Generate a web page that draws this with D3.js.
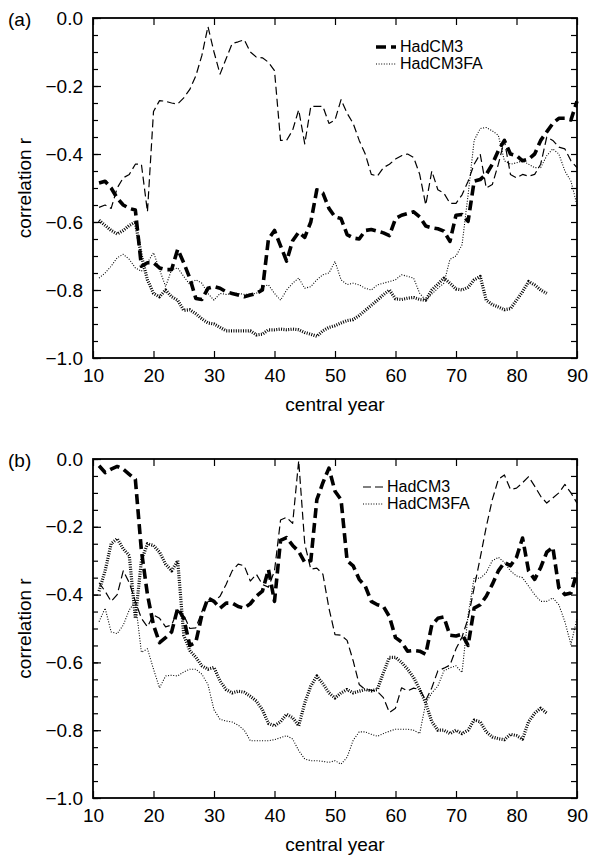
<!DOCTYPE html>
<html>
<head>
<meta charset="utf-8">
<script src="https://cdn.jsdelivr.net/npm/d3@7"></script>
<style>
  body { margin: 0; background: #fff; }
  text { font-family: "Liberation Sans", Arial, sans-serif; fill: #000; }
</style>
</head>
<body>
<div id="chart"></div>
<script>
// central years shared by every curve
var years = d3.range(11, 91);

// panel (a)
var aHadThin = [-0.557,-0.55,-0.56,-0.50,-0.47,-0.46,-0.43,-0.43,-0.57,-0.275,
  -0.243,-0.245,-0.25,-0.253,-0.235,-0.21,-0.17,-0.11,-0.025,-0.10,
  -0.165,-0.12,-0.075,-0.07,-0.064,-0.10,-0.115,-0.117,-0.13,-0.155,
  -0.36,-0.36,-0.33,-0.27,-0.37,-0.26,-0.26,-0.26,-0.31,-0.30,
  -0.24,-0.28,-0.31,-0.36,-0.40,-0.46,-0.465,-0.44,-0.43,-0.415,
  -0.405,-0.40,-0.41,-0.46,-0.55,-0.45,-0.505,-0.515,-0.545,-0.545,
  -0.52,-0.48,-0.43,-0.40,-0.50,-0.49,-0.43,-0.36,-0.46,-0.47,
  -0.46,-0.465,-0.46,-0.43,-0.35,-0.36,-0.38,-0.385,-0.42,-0.44];
var aHadThick = [-0.485,-0.48,-0.50,-0.53,-0.55,-0.56,-0.565,-0.73,-0.72,-0.72,
  -0.735,-0.74,-0.74,-0.68,-0.72,-0.765,-0.825,-0.828,-0.795,-0.79,
  -0.795,-0.805,-0.81,-0.815,-0.82,-0.815,-0.81,-0.80,-0.65,-0.625,
  -0.67,-0.715,-0.655,-0.63,-0.645,-0.60,-0.505,-0.515,-0.56,-0.585,
  -0.59,-0.637,-0.647,-0.65,-0.625,-0.622,-0.627,-0.632,-0.64,-0.59,
  -0.58,-0.575,-0.57,-0.585,-0.612,-0.617,-0.62,-0.627,-0.657,-0.58,
  -0.578,-0.598,-0.48,-0.475,-0.46,-0.43,-0.39,-0.36,-0.40,-0.405,
  -0.42,-0.415,-0.40,-0.36,-0.335,-0.31,-0.295,-0.295,-0.30,-0.245];
var aFAThin = [-0.765,-0.75,-0.73,-0.705,-0.695,-0.71,-0.735,-0.745,-0.72,-0.69,
  -0.74,-0.79,-0.74,-0.735,-0.76,-0.784,-0.77,-0.78,-0.81,-0.83,
  -0.81,-0.813,-0.81,-0.81,-0.813,-0.812,-0.81,-0.79,-0.785,-0.81,
  -0.83,-0.80,-0.78,-0.765,-0.795,-0.79,-0.77,-0.755,-0.75,-0.716,
  -0.77,-0.784,-0.78,-0.785,-0.795,-0.80,-0.785,-0.78,-0.775,-0.77,
  -0.755,-0.76,-0.765,-0.81,-0.83,-0.812,-0.795,-0.78,-0.71,-0.70,
  -0.667,-0.52,-0.36,-0.325,-0.322,-0.332,-0.345,-0.42,-0.43,-0.426,
  -0.42,-0.43,-0.44,-0.44,-0.405,-0.385,-0.40,-0.45,-0.48,-0.55];
var aFAThick = [-0.595,-0.61,-0.625,-0.635,-0.625,-0.61,-0.60,-0.70,-0.77,-0.81,
  -0.82,-0.80,-0.82,-0.83,-0.86,-0.858,-0.87,-0.885,-0.897,-0.90,
  -0.91,-0.92,-0.92,-0.92,-0.92,-0.92,-0.932,-0.93,-0.917,-0.917,
  -0.915,-0.917,-0.915,-0.917,-0.925,-0.93,-0.936,-0.92,-0.91,-0.905,
  -0.897,-0.89,-0.887,-0.875,-0.86,-0.845,-0.83,-0.814,-0.80,-0.826,
  -0.828,-0.824,-0.822,-0.828,-0.83,-0.80,-0.783,-0.765,-0.78,-0.797,
  -0.80,-0.792,-0.77,-0.76,-0.83,-0.843,-0.85,-0.858,-0.855,-0.83,
  -0.805,-0.775,-0.785,-0.80,-0.81];

// panel (b)
var bHadThin = [-0.365,-0.39,-0.42,-0.40,-0.33,-0.365,-0.42,-0.47,-0.495,-0.46,
  -0.47,-0.495,-0.49,-0.445,-0.46,-0.50,-0.498,-0.45,-0.42,-0.42,
  -0.405,-0.37,-0.33,-0.31,-0.315,-0.36,-0.34,-0.37,-0.378,-0.33,
  -0.18,-0.172,-0.19,-0.005,-0.25,-0.325,-0.322,-0.34,-0.44,-0.518,
  -0.52,-0.535,-0.595,-0.665,-0.68,-0.682,-0.686,-0.704,-0.748,-0.735,
  -0.675,-0.684,-0.676,-0.68,-0.712,-0.675,-0.625,-0.617,-0.608,-0.56,
  -0.525,-0.47,-0.38,-0.292,-0.20,-0.12,-0.06,-0.047,-0.09,-0.086,
  -0.07,-0.052,-0.08,-0.11,-0.13,-0.115,-0.10,-0.075,-0.10,-0.13];
var bHadThick = [-0.02,-0.04,-0.03,-0.022,-0.03,-0.045,-0.06,-0.27,-0.40,-0.49,
  -0.542,-0.527,-0.51,-0.44,-0.47,-0.55,-0.54,-0.46,-0.41,-0.42,
  -0.44,-0.425,-0.425,-0.435,-0.44,-0.427,-0.405,-0.39,-0.326,-0.42,
  -0.24,-0.232,-0.255,-0.273,-0.305,-0.30,-0.12,-0.07,-0.027,-0.095,
  -0.12,-0.30,-0.315,-0.355,-0.375,-0.42,-0.43,-0.435,-0.465,-0.527,
  -0.54,-0.567,-0.565,-0.567,-0.576,-0.49,-0.47,-0.466,-0.52,-0.522,
  -0.517,-0.55,-0.44,-0.43,-0.405,-0.37,-0.33,-0.305,-0.315,-0.29,
  -0.233,-0.33,-0.355,-0.32,-0.275,-0.26,-0.38,-0.40,-0.395,-0.335];
var bFAThin = [-0.48,-0.44,-0.51,-0.515,-0.49,-0.445,-0.42,-0.57,-0.56,-0.62,
  -0.675,-0.64,-0.638,-0.64,-0.628,-0.62,-0.62,-0.635,-0.665,-0.74,
  -0.768,-0.773,-0.776,-0.785,-0.80,-0.831,-0.831,-0.831,-0.831,-0.828,
  -0.822,-0.816,-0.826,-0.86,-0.885,-0.89,-0.89,-0.892,-0.895,-0.89,
  -0.90,-0.88,-0.83,-0.805,-0.805,-0.812,-0.818,-0.81,-0.803,-0.797,
  -0.797,-0.797,-0.80,-0.81,-0.72,-0.69,-0.67,-0.625,-0.616,-0.61,
  -0.63,-0.46,-0.35,-0.352,-0.335,-0.30,-0.29,-0.305,-0.33,-0.345,
  -0.35,-0.375,-0.40,-0.42,-0.42,-0.41,-0.43,-0.48,-0.547,-0.47];
var bFAThick = [-0.39,-0.33,-0.25,-0.235,-0.265,-0.285,-0.47,-0.30,-0.25,-0.255,
  -0.275,-0.31,-0.33,-0.30,-0.52,-0.565,-0.585,-0.61,-0.62,-0.615,
  -0.655,-0.68,-0.69,-0.685,-0.688,-0.70,-0.714,-0.74,-0.78,-0.787,
  -0.775,-0.753,-0.763,-0.787,-0.72,-0.67,-0.64,-0.663,-0.69,-0.705,
  -0.69,-0.68,-0.69,-0.685,-0.68,-0.684,-0.68,-0.63,-0.585,-0.585,
  -0.60,-0.62,-0.645,-0.68,-0.72,-0.775,-0.80,-0.80,-0.81,-0.80,
  -0.81,-0.80,-0.77,-0.775,-0.805,-0.82,-0.825,-0.828,-0.812,-0.816,
  -0.826,-0.775,-0.75,-0.735,-0.75];

var legendLabels = ["HadCM3", "HadCM3FA"];
var yTicks = [0, -0.2, -0.4, -0.6, -0.8, -1.0];
var xTicks = [10, 20, 30, 40, 50, 60, 70, 80, 90];

var W = 590, H = 860;
var left = 93, right = 577;

var styles = {
  thinDash:  { w: 1.2, dash: "8,4" },
  thickDash: { w: 3.6, dash: "10,5" },
  thinDot:   { w: 1.1, dash: "1,1.6" },
  thickDot:  { w: 3.2, dash: "1,1.4" }
};

var svg = d3.select("#chart").append("svg")
    .attr("width", W)
    .attr("height", H);

var x = d3.scaleLinear().domain([10, 90]).range([left, right]);

function drawPanel(top, bottom, label, series, legend) {
  var y = d3.scaleLinear().domain([-1, 0]).range([bottom, top]);
  var g = svg.append("g");
  var minor = d3.range(0, 21).map(function(i) { return -i * 0.05; });

  // minor ticks left
  g.append("g")
      .attr("transform", "translate(" + left + ",0)")
      .call(d3.axisLeft(y).tickValues(minor).tickSize(-5).tickSizeOuter(0).tickFormat(""));
  // labelled ticks left
  g.append("g")
      .attr("class", "ylab")
      .attr("transform", "translate(" + left + ",0)")
      .call(d3.axisLeft(y).tickValues(yTicks).tickSize(-8).tickSizeOuter(0).tickPadding(10)
        .tickFormat(d3.format(".1f")));
  // right ticks
  g.append("g")
      .attr("transform", "translate(" + right + ",0)")
      .call(d3.axisRight(y).tickValues(minor).tickSize(-6).tickSizeOuter(0).tickFormat(""));
  // top ticks
  g.append("g")
      .attr("transform", "translate(0," + top + ")")
      .call(d3.axisTop(x).tickValues(xTicks).tickSize(-7).tickSizeOuter(0).tickFormat(""));
  // bottom ticks + labels
  g.append("g")
      .attr("class", "xlab")
      .attr("transform", "translate(0," + bottom + ")")
      .call(d3.axisBottom(x).tickValues(xTicks).tickSize(-7).tickSizeOuter(0).tickPadding(11)
        .tickFormat(d3.format("d")));

  g.selectAll(".domain").remove();
  g.selectAll(".tick line").attr("stroke", "#000").attr("stroke-width", 1.2);
  g.selectAll(".tick text").style("font-size", "19px").attr("fill", "#000")
      .style("font-family", "'Liberation Sans', Arial, sans-serif");

  // frame
  g.append("rect")
      .attr("x", left).attr("y", top)
      .attr("width", right - left).attr("height", bottom - top)
      .attr("fill", "none").attr("stroke", "#000").attr("stroke-width", 1.8);

  var line = d3.line()
      .x(function(d, i) { return x(years[i]); })
      .y(function(d) { return y(d); });

  series.forEach(function(s) {
    g.append("path")
        .datum(s.values)
        .attr("d", line)
        .attr("fill", "none")
        .attr("stroke", "#000")
        .attr("stroke-width", styles[s.style].w)
        .attr("stroke-dasharray", styles[s.style].dash)
        .attr("stroke-linejoin", "round");
  });

  // panel label
  svg.append("text")
      .attr("x", 8).attr("y", top + 8)
      .style("font-size", "19px")
      .text(label);

  // axis titles
  svg.append("text")
      .attr("transform", "translate(31," + ((top + bottom) / 2) + ") rotate(-90)")
      .attr("text-anchor", "middle")
      .style("font-size", "19px")
      .text("correlation r");
  svg.append("text")
      .attr("x", (left + right) / 2).attr("y", bottom + 53)
      .attr("text-anchor", "middle")
      .style("font-size", "19px")
      .text("central year");

  // legend
  legend.styles.forEach(function(st, i) {
    var ly = legend.y + i * 17;
    g.append("line")
        .attr("x1", legend.x).attr("x2", legend.x + 20)
        .attr("y1", ly - 5).attr("y2", ly - 5)
        .attr("stroke", "#000")
        .attr("stroke-width", styles[st].w)
        .attr("stroke-dasharray", styles[st].dash);
    g.append("text")
        .attr("x", legend.x + 24).attr("y", ly)
        .style("font-size", "16px")
        .text(legendLabels[i]);
  });
}

drawPanel(18, 358, "(a)", [
  { values: aHadThin,  style: "thinDash" },
  { values: aFAThin,   style: "thinDot" },
  { values: aFAThick,  style: "thickDot" },
  { values: aHadThick, style: "thickDash" }
], { x: 376, y: 52, styles: ["thickDash", "thinDot"] });

drawPanel(459, 798, "(b)", [
  { values: bHadThin,  style: "thinDash" },
  { values: bFAThin,   style: "thinDot" },
  { values: bFAThick,  style: "thickDot" },
  { values: bHadThick, style: "thickDash" }
], { x: 363, y: 492, styles: ["thinDash", "thinDot"] });
</script>
</body>
</html>
